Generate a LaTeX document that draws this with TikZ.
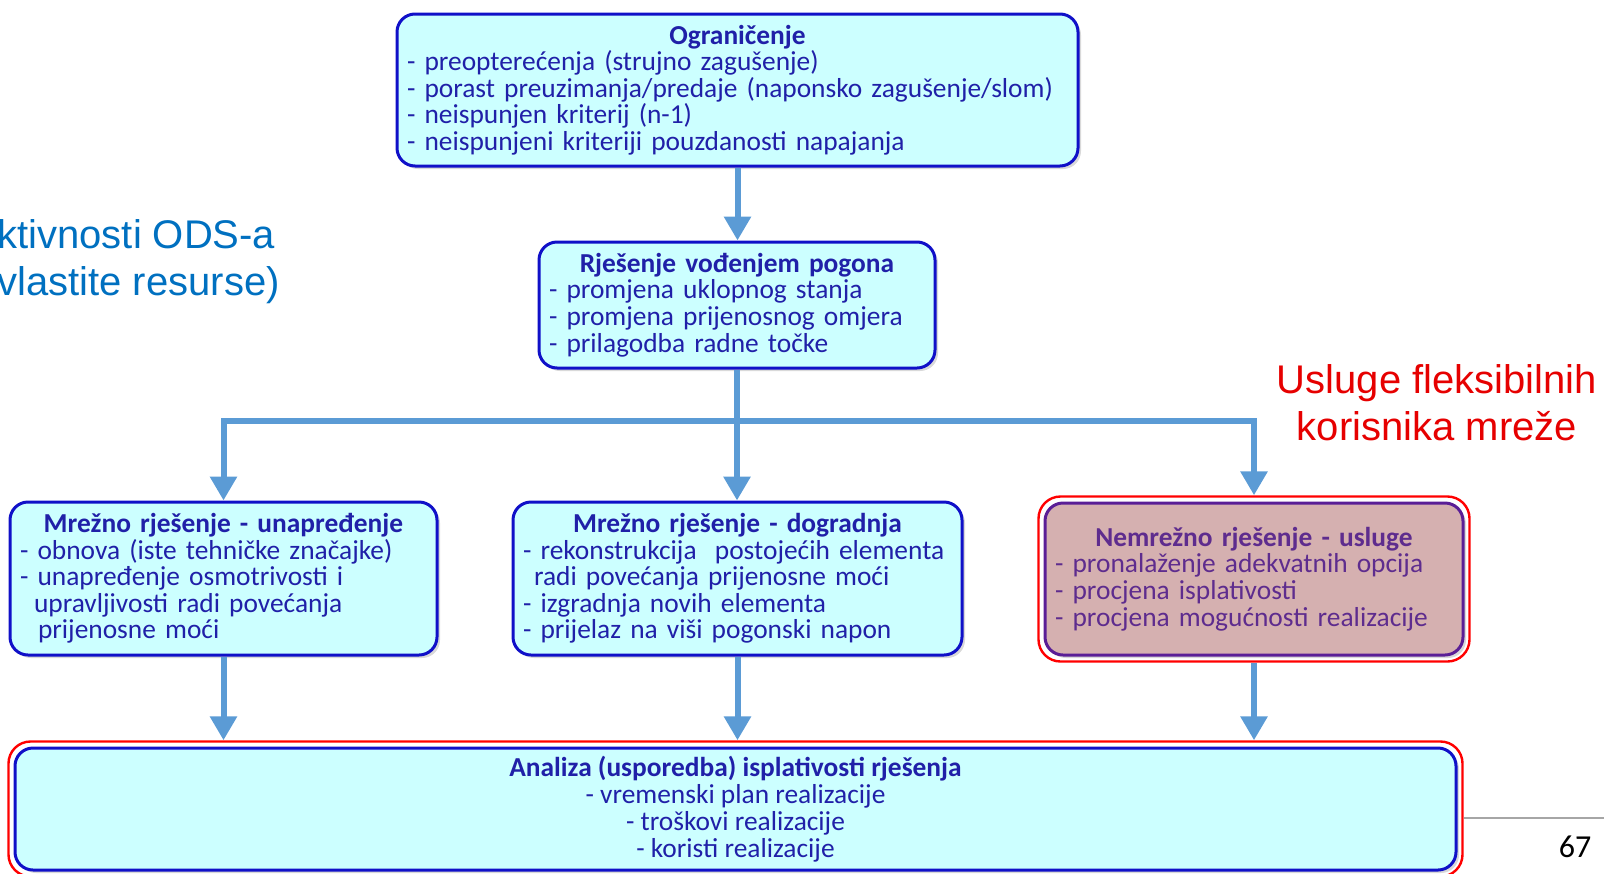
\documentclass[tikz,border=0pt]{standalone}
\usepackage{fontspec}
\setmainfont{Carlito}
\newfontfamily\arialfont{Liberation Sans}
\usetikzlibrary{arrows.meta,fit,shadows}
\definecolor{boxfill}{HTML}{CCFFFF}
\definecolor{boxline}{HTML}{1010C8}
\definecolor{boxtext}{HTML}{2020A8}
\definecolor{uslfill}{HTML}{D5B0B0}
\definecolor{uslline}{HTML}{5A1E96}
\definecolor{usltext}{HTML}{5E2C8E}
\definecolor{flowblue}{HTML}{5B9BD5}
\definecolor{odsblue}{HTML}{0070C0}
\definecolor{flexred}{HTML}{E60000}
\tikzset{
  box/.style={draw=boxline, fill=boxfill, line width=1.5pt, rounded corners=9pt,
    text=boxtext, align=left, inner xsep=5pt, inner ysep=0pt,
    font=\fontsize{13.7}{13.3}\selectfont,
    drop shadow={shadow xshift=1.5pt, shadow yshift=-1.5pt, opacity=0.3}},
  uslbox/.style={box, draw=uslline, fill=uslfill, text=usltext},
  redframe/.style={draw=red, line width=1.2pt, rounded corners=11pt, inner sep=2.5pt},
  flow/.style={draw=flowblue, line width=3pt, -{Triangle[width=13pt,length=12pt]}},
  sidetext/.style={font=\arialfont\fontsize{20}{23.5}\selectfont, inner sep=0pt}
}
\begin{document}
\begin{tikzpicture}[x=0.5pt,y=-0.5pt]
  \useasboundingbox (0,0) rectangle (1604,873);
  \clip (0,0) rectangle (1604,873);

  \node[box, minimum width=340.5pt, minimum height=76pt, text width=330.5pt] (ogr) at (737.5,90)
    {{\centering\bfseries Ograničenje\par}
     - preopterećenja (strujno zagušenje)\\
     - porast preuzimanja/predaje (naponsko zagušenje/slom)\\
     - neispunjen kriterij (n-1)\\
     - neispunjeni kriteriji pouzdanosti napajanja};
  \node[box, minimum width=198pt, minimum height=63pt, text width=188pt] (pogon) at (737,305)
    {{\centering\bfseries Rješenje vođenjem pogona\par}
     - promjena uklopnog stanja\\
     - promjena prijenosnog omjera\\
     - prilagodba radne točke};
  \node[box, minimum width=213.5pt, minimum height=76.5pt, text width=203.5pt] (unapr) at (223.5,578.5)
    {{\centering\bfseries Mrežno rješenje - unapređenje\par}
     - obnova (iste tehničke značajke)\\
     - unapređenje osmotrivosti i\\
     \hspace*{7pt}upravljivosti radi povećanja\\
     \hspace*{9pt}prijenosne moći};
  \node[box, minimum width=224.5pt, minimum height=76.5pt, text width=214.5pt] (dogr) at (737.5,578.5)
    {{\centering\bfseries Mrežno rješenje - dogradnja\par}
     - rekonstrukcija\ \ postojećih elementa\\
     \hspace*{5.5pt}radi povećanja prijenosne moći\\
     - izgradnja novih elementa\\
     - prijelaz na viši pogonski napon};
  \node[uslbox, minimum width=209pt, minimum height=76pt, text width=199pt] (usl) at (1254,579)
    {{\centering\bfseries Nemrežno rješenje - usluge\par}
     - pronalaženje adekvatnih opcija\\
     - procjena isplativosti\\
     - procjena mogućnosti realizacije};
  \node[redframe, fit=(usl)] (uslfr) {};
  \node[box, align=center, minimum width=720.5pt, minimum height=61pt,
    font=\fontsize{13.7}{13.4}\selectfont] (anl) at (735.5,809)
    {\textbf{Analiza (usporedba) isplativosti rješenja}\\
     - vremenski plan realizacije\\
     - troškovi realizacije\\
     - koristi realizacije};
  \node[redframe, fit=(anl)] (anlfr) {};

  \node[sidetext, text=odsblue, align=left, anchor=west] (ods) at (-3,262)
    {ktivnosti ODS-a\\vlastite resurse)};
  \node[sidetext, text=flexred, align=center] (flex) at (1437,403)
    {Usluge fleksibilnih\\korisnika mreže};

  \coordinate (split) at (737,421);
  \draw[flow] (ogr.south) -- (ogr.south |- pogon.north);
  \draw[flow] (pogon.south) -- (pogon.south |- dogr.north);
  \draw[flow] (split) -| (unapr.north);
  \draw[flow] (split) -| (uslfr.north);
  \draw[flow] (unapr.south) -- (unapr.south |- anlfr.north);
  \draw[flow] (dogr.south) -- (dogr.south |- anlfr.north);
  \draw[flow] (uslfr.south) -- (uslfr.south |- anlfr.north);

  \draw[gray!70, line width=1pt] (anlfr.east |- 0,818) -- (1604,818);
  \node[font=\fontsize{16}{16}\selectfont] (pagenum) at (1575,847) {67};
\end{tikzpicture}
\end{document}
